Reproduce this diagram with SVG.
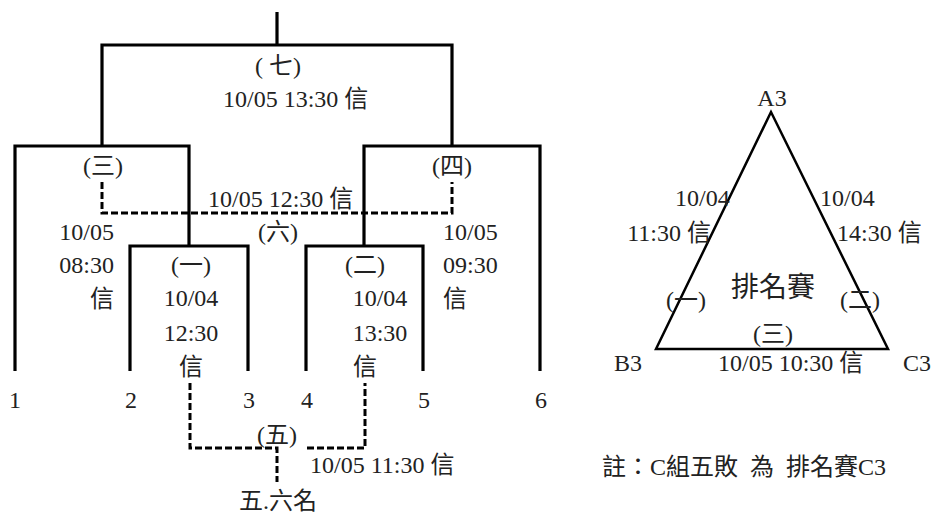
<svg xmlns="http://www.w3.org/2000/svg" width="933" height="514" viewBox="0 0 933 514">
<style>
text{font-family:"Liberation Serif","Noto Sans CJK TC",serif;font-size:24px;fill:#222}
.m{text-anchor:middle}
.e{text-anchor:end}
.big{font-size:28px}
.solid{fill:none;stroke:#000;stroke-width:3.2}
.dash{fill:none;stroke:#000;stroke-width:3;stroke-dasharray:7,3}
.tri{fill:none;stroke:#000;stroke-width:2.5;stroke-linejoin:miter}
</style>
<rect width="933" height="514" fill="#fff"/>
<g id="connectors">
<path class="solid" d="M277,12V45M102,146V45H452V146"/>
<path class="solid" d="M15,371V146H189V246M540,371V146H364V246"/>
<path class="solid" d="M130,371V246H248V371M306,371V246H423V371"/>
<path class="dash" d="M102,182V213H452V182"/>
<path class="dash" d="M190,383V448H277V482M307,448H365V383"/>
</g>
<g id="match7">
<text class="m" x="278" y="74">( 七)</text>
<text x="223" y="107">10/05 13:30 信</text>
</g>
<g id="match3">
<text class="m" x="103" y="174">(三)</text>
<text class="e" x="114" y="240">10/05</text>
<text class="e" x="114" y="273">08:30</text>
<text class="e" x="114" y="307">信</text>
</g>
<g id="match4">
<text class="m" x="452" y="174">(四)</text>
<text x="443" y="240">10/05</text>
<text x="443" y="273">09:30</text>
<text x="443" y="307">信</text>
</g>
<g id="match6">
<text x="208" y="207">10/05 12:30 信</text>
<text class="m" x="278" y="240">(六)</text>
</g>
<g id="match1">
<text class="m" x="191" y="273">(一)</text>
<text class="m" x="191" y="306">10/04</text>
<text class="m" x="191" y="341">12:30</text>
<text class="m" x="191" y="375">信</text>
</g>
<g id="match2">
<text class="m" x="365" y="273">(二)</text>
<text class="m" x="380" y="306">10/04</text>
<text class="m" x="380" y="341">13:30</text>
<text class="m" x="365" y="375">信</text>
</g>
<g id="match5">
<text class="m" x="277" y="443">(五)</text>
<text x="310" y="473">10/05 11:30 信</text>
<text class="m" x="278" y="509">五.六名</text>
</g>
<g id="teams">
<text class="m" x="15" y="408">1</text>
<text class="m" x="131" y="408">2</text>
<text class="m" x="249" y="408">3</text>
<text class="m" x="307" y="408">4</text>
<text class="m" x="424" y="408">5</text>
<text class="m" x="541" y="408">6</text>
</g>
<g id="ranking">
<path class="tri" d="M771,112L656,349H888Z"/>
<text class="m" x="772" y="106">A3</text>
<text class="m" x="628" y="371">B3</text>
<text class="m" x="917" y="371">C3</text>
<text x="675" y="206">10/04</text>
<text class="e" x="711" y="241">11:30 信</text>
<text x="820" y="206">10/04</text>
<text x="837" y="241">14:30 信</text>
<text class="m big" x="773" y="297">排名賽</text>
<text class="m" x="686" y="308">(一)</text>
<text class="m" x="860" y="308">(二)</text>
<text class="m" x="773" y="342">(三)</text>
<text x="718" y="371">10/05 10:30 信</text>
</g>
<g id="note">
<text x="602" y="475" xml:space="preserve">註：C組五敗  為  排名賽C3</text>
</g>
</svg>
